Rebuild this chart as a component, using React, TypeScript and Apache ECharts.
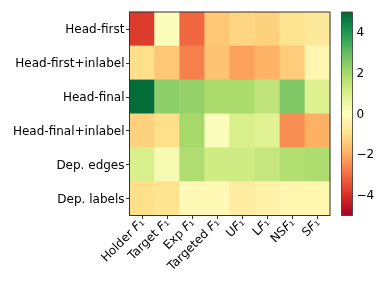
import React, { useEffect, useRef } from 'react';
import * as echarts from 'echarts';

const rows = ['Head-first', 'Head-first+inlabel', 'Head-final', 'Head-final+inlabel', 'Dep. edges', 'Dep. labels'];
const cols = ['Holder F₁', 'Target F₁', 'Exp F₁', 'Targeted F₁', 'UF₁', 'LF₁', 'NSF₁', 'SF₁'];

const headFirst = [-3.8, 0.1, -3.1, -1.5, -1.2, -1.3, -0.9, -0.7];
const headFirstInlabel = [-1.0, -1.5, -2.7, -1.6, -2.2, -1.9, -1.4, -0.3];
const headFinal = [4.9, 2.4, 2.3, 1.9, 1.9, 1.5, 2.6, 0.9];
const headFinalInlabel = [-1.3, -1.0, 2.0, 0.1, 1.0, 0.8, -2.5, -1.95];
const depEdges = [1.0, 0.3, 1.8, 1.2, 1.2, 1.4, 1.75, 1.85];
const depLabels = [-1.0, -0.9, -0.2, -0.2, -0.6, -0.45, -0.3, -0.3];

const values = [headFirst, headFirstInlabel, headFinal, headFinalInlabel, depEdges, depLabels];

const vmin = -5;
const vmax = 5;
const colorTicks = [-4, -2, 0, 2, 4];

const RdYlGn = ['#a50026', '#d73027', '#f46d43', '#fdae61', '#fee08b', '#ffffbf', '#d9ef8b', '#a6d96a', '#66bd63', '#1a9850', '#006837'];

const FONT = 'DejaVu Sans';
const FS = 12;

export default function App() {
  const ref = useRef<HTMLDivElement>(null);
  useEffect(() => {
    if (!ref.current) return;
    const chart = echarts.init(ref.current, null, { renderer: 'svg' });
    const data: [number, number, number][] = [];
    values.forEach((row, y) => row.forEach((v, x) => data.push([x, y, v])));

    const gLeft = 129.5, gTop = 12, gW = 200.5, gH = 203.5;
    const cLeft = 341.5, cW = 11;

    chart.setOption({
      animation: false,
      textStyle: { fontFamily: FONT },
      grid: [
        { left: gLeft, top: gTop, width: gW, height: gH },
        { left: cLeft, top: gTop, width: cW, height: gH },
      ],
      xAxis: [
        {
          type: 'category',
          data: cols,
          gridIndex: 0,
          axisLine: { show: true, lineStyle: { color: '#333', width: 1 } },
          axisTick: { show: true, alignWithLabel: true, length: 3.5, lineStyle: { color: '#333' } },
          splitLine: { show: false },
          axisLabel: {
            interval: 0,
            rotate: 45,
            fontSize: FS,
            color: '#000',
            fontFamily: FONT,
            margin: 5,
            formatter: (v: string) => v.replace('F₁', '{i|F}₁'),
            rich: { i: { fontStyle: 'italic', fontSize: FS, fontFamily: FONT, color: '#000' } },
          },
        },
        { type: 'value', gridIndex: 1, show: false, min: 0, max: 1 },
      ],
      yAxis: [
        {
          type: 'category',
          data: rows,
          inverse: true,
          gridIndex: 0,
          axisLine: { show: true, lineStyle: { color: '#333', width: 1 } },
          axisTick: { show: true, alignWithLabel: true, length: 3.5, lineStyle: { color: '#333' } },
          splitLine: { show: false },
          axisLabel: { fontSize: FS, color: '#000', fontFamily: FONT, margin: 5 },
        },
        {
          type: 'value',
          gridIndex: 1,
          min: vmin,
          max: vmax,
          position: 'right',
          axisLine: { show: false },
          splitLine: { show: false },
          axisTick: { show: true, length: 3.5, customValues: colorTicks, lineStyle: { color: '#333' } },
          axisLabel: {
            customValues: colorTicks,
            fontSize: FS,
            color: '#000',
            fontFamily: FONT,
            margin: 4,
            formatter: (v: number) => (v < 0 ? '−' + Math.abs(v) : String(v)),
          },
        },
      ],
      visualMap: {
        show: false,
        type: 'continuous',
        min: vmin,
        max: vmax,
        seriesIndex: 0,
        inRange: { color: RdYlGn },
      },
      graphic: [
        {
          type: 'rect',
          shape: { x: cLeft, y: gTop, width: cW, height: gH },
          style: {
            fill: new echarts.graphic.LinearGradient(0, 1, 0, 0,
              RdYlGn.map((c, i) => ({ offset: i / (RdYlGn.length - 1), color: c }))),
            stroke: '#333',
            lineWidth: 0.8,
          },
          z: 10,
        },
        {
          type: 'rect',
          shape: { x: gLeft, y: gTop, width: gW, height: gH },
          style: { fill: 'none', stroke: '#333', lineWidth: 1 },
          z: 10,
        },
      ],
      series: [
        {
          type: 'heatmap',
          xAxisIndex: 0,
          yAxisIndex: 0,
          data,
          emphasis: { disabled: true },
          itemStyle: { borderWidth: 0 },
        },
      ],
    });
    return () => chart.dispose();
  }, []);
  return <div ref={ref} style={{ position: 'fixed', left: 0, top: 0, width: 392, height: 294 }} />;
}
